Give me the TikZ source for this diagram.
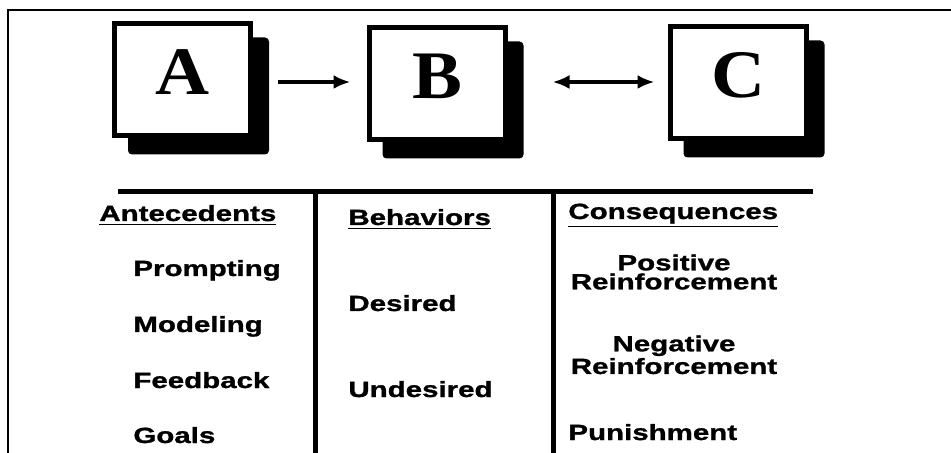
\documentclass[tikz,border=0pt]{standalone}
\usepackage{fontspec}
\newfontfamily\abcfont[FakeStretch=1.1]{Liberation Serif}
\newfontfamily\listfont[FakeStretch=1.34,BoldFeatures={FakeBold=1.2}]{Liberation Sans}
\usetikzlibrary{arrows.meta,backgrounds}
\tikzset{
  >={Latex[length=8.5pt,width=7pt]},
  {abc box/.style} ={draw, line width=2.5pt, fill=white,
                     minimum width=68pt, minimum height=56pt,
                     font=\abcfont\bfseries\fontsize{34}{34}\selectfont,
                     text depth=8pt},
  {abc shadow/.style} ={fill=black, rounded corners=2pt},
  {link/.style} ={line width=2pt},
  {rule/.style} ={line width=2.5pt},
  {head/.style} ={anchor=base west, inner sep=0,
                  font=\listfont\bfseries\fontsize{11}{9.5}\selectfont},
  {item/.style} ={head},
  {pair/.style} ={head, anchor=north, align=center},
}
\begin{document}
\begin{tikzpicture}[x=0.5pt,y=-0.5pt]
\useasboundingbox (0,0) rectangle (951,453);
% frame
\draw[line width=0.75pt] (8,453) -- (8,10) -- (951,10);

% the three boxes
\node[abc box] (boxA) at (182.5,80) {A};
\node[abc box] (boxB) at (437,84) {B};
\node[abc box] (boxC) at (738,83) {C};
\begin{scope}[on background layer]
  \foreach \b in {boxA,boxB,boxC}
    \fill[abc shadow] ([shift={(16,16)}]\b.south west)
                      rectangle ([shift={(16,16)}]\b.north east);
\end{scope}

\coordinate (ab) at (boxA.east -| boxB.west);
\coordinate (bc) at (boxC.west -| boxB.east);
\draw[link,->,shorten <=12.5pt,shorten >=8pt]
  ([yshift=-1pt]boxA.east) -- ([yshift=-1pt]ab);
\draw[link,<->,shorten <=22.5pt,shorten >=6.5pt]
  ([yshift=0.5pt]bc) -- ([yshift=0.5pt]boxC.west);

% table rules
\draw[rule] (118,192) -- (813,192);
\draw[rule] (315,192) -- (315,453);
\draw[rule] (553,192) -- (553,453);

% antecedents
\node[head] (ante) at (99,221) {\underline{Antecedents}};
\node[item] (prompt) at (133,276) {Prompting};
\node[item] (model)  at (133,332) {Modeling};
\node[item] (feed)   at (133,388) {Feedback};
\node[item] (goals)  at (133,443) {Goals};

% behaviors
\node[head] (behav) at (348,225) {\underline{Behaviors}};
\node[item] (desired)   at (348,311) {Desired};
\node[item] (undesired) at (348,397) {Undesired};

% consequences
\node[head] (conseq) at (568,219) {\underline{Consequences}};
\node[pair] (posrf) at (674,254) {Positive\\Reinforcement};
\node[pair] (negrf) at (674,335) {Negative\\Reinforcement};
\node[item] (punish) at (568,440) {Punishment};
\end{tikzpicture}
\end{document}
